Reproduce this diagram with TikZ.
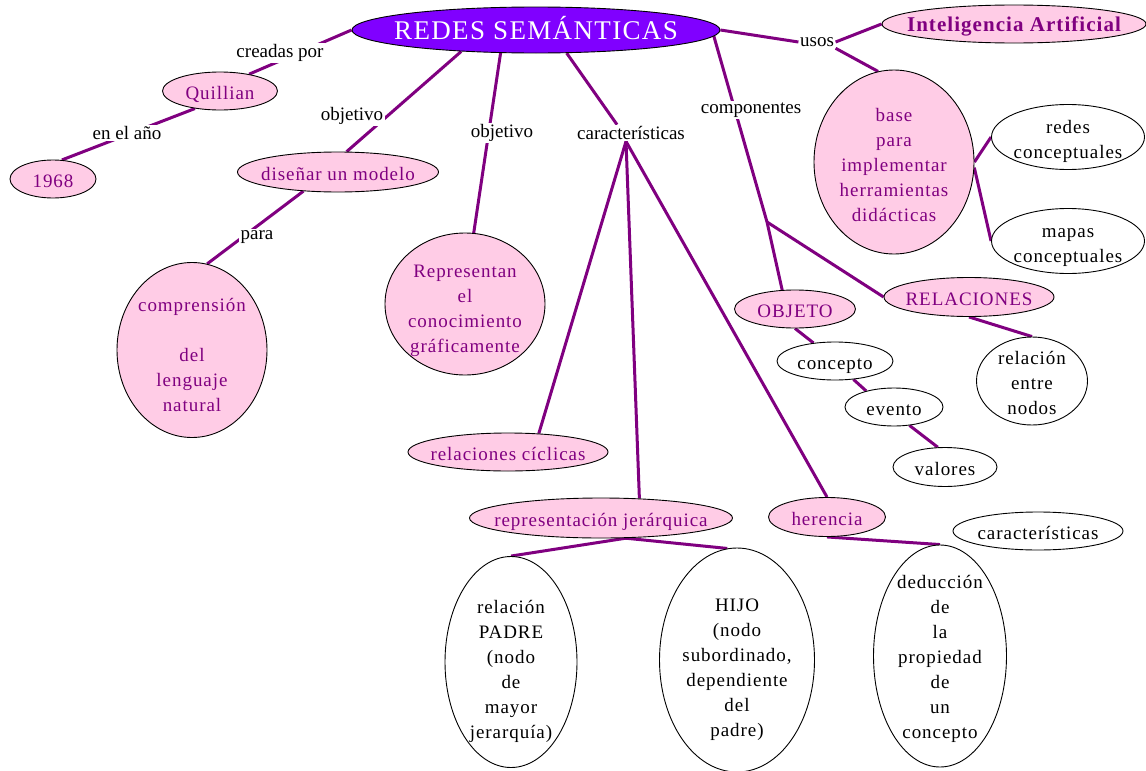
\documentclass[tikz,border=0pt]{standalone}
\usepackage{fontspec}
\setmainfont{Liberation Serif}
\newfontfamily\nf[LetterSpace=5]{Liberation Serif}
\usetikzlibrary{shapes.geometric}
\pgfdeclarelayer{back}
\pgfdeclarelayer{bg}
\pgfsetlayers{back,bg,main}
\definecolor{lnc}{RGB}{128,0,128}
\definecolor{pkf}{RGB}{255,204,230}
\definecolor{hdf}{RGB}{128,0,255}
\newcommand\tx[2][0pt]{\makebox[0pt]{\smash{\raisebox{\dimexpr-0.5ex-3pt-#1\relax}{\begin{tabular}{@{}c@{}}#2\end{tabular}}}}}
\begin{document}
\begin{tikzpicture}[x=1pt,y=-1pt,
 nd/.style={ellipse, draw=black, line width=0.9pt, inner sep=0pt, font=\nf\fontsize{19}{25}\selectfont},
 pk/.style={nd, fill=pkf, text=lnc},
 wh/.style={nd, fill=white, text=black},
 lbl/.style={fill=white, inner sep=1.5pt, text=black, font=\fontsize{19}{23}\selectfont},
 conn/.style={draw=lnc, line width=3pt},
 sz/.style 2 args={minimum width=#1pt, minimum height=#2pt}]
\useasboundingbox (0,0) rectangle (1146,771);
\begin{pgfonlayer}{back}
\fill[white] (0,0) rectangle (1146,771);
\end{pgfonlayer}

% main nodes
\node[nd, fill=hdf, text=white, sz={368}{46}, font=\nf\fontsize{27}{30}\selectfont] (redes) at (536,30) {\tx[-1pt]{REDES SEMÁNTICAS}};
\node[pk, sz={264}{38}, font=\nf\bfseries\fontsize{21}{25}\selectfont] (ia) at (1014,24) {\tx{Inteligencia Artificial}};
\node[pk, sz={115}{38}] (quillian) at (220,91) {\tx{Quillian}};
\node[pk, sz={86}{38}] (y1968) at (53,179) {\tx{1968}};
\node[pk, sz={201}{40}] (disenar) at (338,172) {\tx{diseñar un modelo}};
\node[pk, sz={150}{175}] (comprension) at (192,350) {\tx[3pt]{comprensión\\ \\del\\lenguaje\\natural}};
\node[pk, sz={160}{142}] (representan) at (465,304) {\tx[3pt]{Representan\\el\\conocimiento\\gráficamente}};
\node[pk, sz={200}{38}] (relciclicas) at (508,452) {\tx{relaciones cíclicas}};
\node[pk, sz={263}{40}] (repjer) at (601,518) {\tx{representación jerárquica}};
\node[pk, sz={117}{39}] (herencia) at (827,517) {\tx{herencia}};
\node[wh, sz={132}{211}] (padre) at (511,662) {\tx[6pt]{relación\\PADRE\\(nodo\\de\\mayor\\jerarquía)}};
\node[wh, sz={155}{224}] (hijo) at (737,660) {\tx[6pt]{HIJO\\(nodo\\subordinado,\\dependiente\\del\\padre)}};
\node[wh, sz={133}{222}] (deduccion) at (940,656) {\tx[-1pt]{deducción\\de\\la\\propiedad\\de\\un\\concepto}};
\node[wh, sz={170}{38}] (caractw) at (1038,531) {\tx{características}};
\node[pk, sz={121}{38}] (objeto) at (795,309) {\tx{OBJETO}};
\node[pk, sz={170}{39}] (relaciones) at (969,297) {\tx{RELACIONES}};
\node[wh, sz={116}{38}] (concepto) at (835,361) {\tx{concepto}};
\node[wh, sz={98}{38}] (evento) at (894,407) {\tx{evento}};
\node[wh, sz={104}{39}] (valores) at (945,467) {\tx{valores}};
\node[wh, sz={111}{88}] (relentre) at (1032,381) {\tx{relación\\entre\\nodos}};
\node[pk, sz={160}{184}] (base) at (894,162) {\tx[1pt]{base\\para\\implementar\\herramientas\\didácticas}};
\node[wh, sz={153}{65}] (redesc) at (1068,137) {\tx[1pt]{redes\\conceptuales}};
\node[wh, sz={153}{65}] (mapas) at (1068,241) {\tx[1pt]{mapas\\conceptuales}};

% link labels
\node[lbl] (creadas) at (280,53) {creadas por};
\node[lbl] (enelano) at (127,133) {en el año};
\node[lbl] (obj1) at (352,116) {objetivo};
\node[lbl] (obj2) at (502,133) {objetivo};
\node[lbl] (caract) at (631,133) {características};
\node[lbl] (componentes) at (751,110) {componentes};
\node[lbl] (usos) at (817,42) {usos};
\node[lbl] (para) at (257,237) {para};
\coordinate (cbr) at (767,222);

\begin{pgfonlayer}{bg}
\draw[conn] (redes.west) -- (quillian.30);
\draw[conn] (quillian.215) -- (y1968.65);
\draw[conn] (redes.196) -- (disenar.67);
\draw[conn] (disenar.209) -- (comprension.80);
\draw[conn] (redes.213) -- (representan.83);
\draw[conn] (redes.323) -- ([xshift=-14pt]caract.north);
\draw[conn] ([xshift=-5pt]caract.south) -- (relciclicas.31);
\draw[conn] ([xshift=-5pt]caract.south) -- (repjer.27);
\draw[conn] ([xshift=-5pt]caract.south) -- (herencia.north);
\draw[conn] (repjer.-38) -- (padre.north);
\draw[conn] (repjer.-40) -- (hijo.95);
\draw[conn] (herencia.south) -- (deduccion.north);
\draw[conn] (redes.-2) -- (cbr) -- (objeto.124);
\draw[conn] (cbr) -- (relaciones.west);
\draw[conn] (relaciones.south) -- (relentre.north);
\draw[conn] (objeto.south) -- (concepto.140);
\draw[conn] (concepto.-45) -- (evento.150);
\draw[conn] (evento.-50) -- (valores.110);
\draw[conn] (redes.east) -- (usos.west);
\draw[conn] (usos.east) -- (ia.west);
\draw[conn] (usos.south east) -- (base.100);
\draw[conn] (base.east) -- (redesc.west);
\draw[conn] (base.-4) -- (mapas.west);
\end{pgfonlayer}
\end{tikzpicture}
\end{document}
